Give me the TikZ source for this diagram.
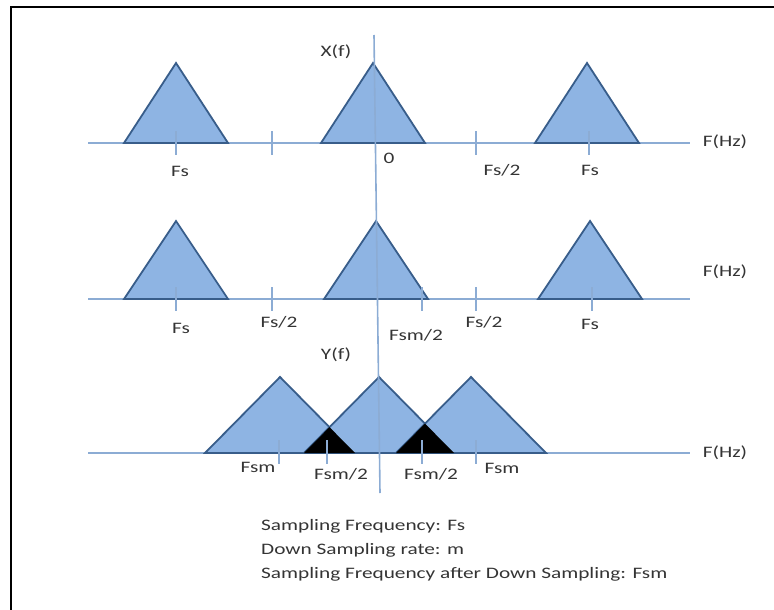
\documentclass[tikz,border=0pt]{standalone}
\usepackage{fontspec}
\setmainfont{Carlito}[FakeStretch=1.33]
\definecolor{specfill}{RGB}{142,180,227}
\definecolor{specline}{RGB}{56,93,138}
\definecolor{axisblue}{RGB}{140,172,212}
\definecolor{labelgray}{RGB}{52,52,52}
\begin{document}
\begin{tikzpicture}[x=1pt, y=-1pt, every node/.style={font=\fontsize{16}{24}\selectfont, text=labelgray, inner sep=0pt},
  spec/.style={draw=specline, fill=specfill, line width=1.8pt},
  axis/.style={draw=axisblue, line width=1.6pt},
  tick/.style={draw=axisblue, line width=2pt}]
\useasboundingbox (0,0) rectangle (774,610);
\draw[line width=2.2pt] (11,610) -- (11,7) -- (774,7);
\draw[axis] (88,143) -- (690,143);
\draw[axis] (88,299) -- (690,299);
\draw[axis] (88,453) -- (690,453);
\foreach \x in {176,373,587} \draw[spec] (\x-52,143) -- (\x,63) -- (\x+52,143) -- cycle;
\foreach \x in {176,376,590} \draw[spec] (\x-52,299) -- (\x,221) -- (\x+52,299) -- cycle;
\draw[spec] (205,453) -- (280,377) coordinate (lt) -- (355,453) coordinate (lb) -- cycle;
\draw[spec] (304,453) coordinate (ca) -- (379,377) coordinate (ct) -- (454,453) coordinate (cb) -- cycle;
\draw[spec] (396,453) coordinate (ra) -- (471,377) coordinate (rt) -- (546,453) -- cycle;
\fill[black] (ca) -- (intersection of lt--lb and ct--ca) -- (lb) -- cycle;
\fill[black] (ra) -- (intersection of ct--cb and rt--ra) -- (cb) -- cycle;
\foreach \x in {176,272,476,589} \draw[tick] (\x,131) -- (\x,155);
\foreach \x in {176,272,422,476,592} \draw[tick] (\x,287) -- (\x,311);
\foreach \x in {279,327,422,476} \draw[tick] (\x,440) -- (\x,464);
\draw[axis] (374,35) -- (380,493);
\node (xf) at (336,52) {X(f)};
\node (fs1) at (180,171) {Fs};
\node (zero) at (389,158) {0};
\node (fsh1) at (502,170) {Fs/2};
\node (fs2) at (590,170) {Fs};
\node (hz1) at (725,142) {F(Hz)};
\node (fs3) at (181,328) {Fs};
\node (fsh2) at (279,322) {Fs/2};
\node (fsmh1) at (416,335) {Fsm/2};
\node (fsh3) at (484,322) {Fs/2};
\node (fs4) at (590,324) {Fs};
\node (hz2) at (725,272) {F(Hz)};
\node (yf) at (336,355) {Y(f)};
\node (fsm1) at (258,467) {Fsm};
\node (fsmh2) at (341,474) {Fsm/2};
\node (fsmh3) at (431,474) {Fsm/2};
\node (fsm2) at (502,468) {Fsm};
\node (hz3) at (725,453) {F(Hz)};
\node[anchor=base west] (leg1) at (261,530) {Sampling Frequency: Fs};
\node[anchor=base west] (leg2) at (261,554) {Down Sampling rate: m};
\node[anchor=base west] (leg3) at (261,578) {Sampling Frequency after Down Sampling: Fsm};
\end{tikzpicture}
\end{document}
